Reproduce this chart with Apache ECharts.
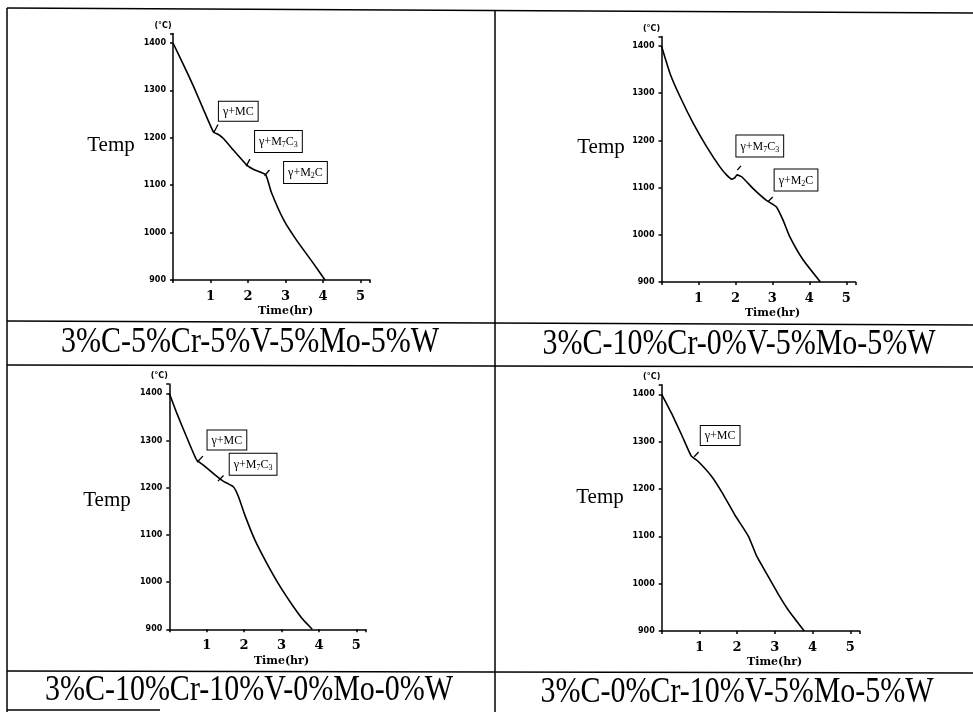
<!DOCTYPE html>
<html>
<head>
    <meta charset="utf-8">
    <title>Cooling curves</title>
    <script src="https://cdn.jsdelivr.net/npm/echarts@6/dist/echarts.min.js"></script>
    <style>
        html, body { margin: 0; padding: 0; background: #fff; }
    </style>
</head>
<body>
    <div id="main" style="width: 973px;height:712px;"></div>
    <script type="text/javascript">
        // alloy names under each panel
        var alloys = [
            '3%C-5%Cr-5%V-5%Mo-5%W',
            '3%C-10%Cr-0%V-5%Mo-5%W',
            '3%C-10%Cr-10%V-0%Mo-0%W',
            '3%C-0%Cr-10%V-5%Mo-5%W'
        ];

        // time (hr) and temperature (°C)
        var time1 = [0, 0.28, 0.55, 0.81, 1.08, 1.21, 1.35, 1.62, 1.96, 2.15, 2.47, 2.62, 2.96, 3.3, 3.76, 4.05];
        var temp1 = [1400, 1354, 1308, 1260, 1212, 1207, 1198, 1173, 1143, 1133, 1122, 1085, 1025, 983, 933, 900];

        var time2 = [0, 0.23, 0.5, 0.86, 1.22, 1.58, 1.76, 1.9, 1.97, 2.05, 2.17, 2.48, 2.84, 3.11, 3.29, 3.47, 3.83, 4.3];
        var temp2 = [1400, 1342, 1293, 1236, 1187, 1144, 1127, 1118, 1120, 1127, 1123, 1098, 1073, 1059, 1031, 996, 947, 900];

        var time3 = [0, 0.2, 0.46, 0.73, 0.91, 1.18, 1.44, 1.71, 1.85, 2.02, 2.29, 2.6, 2.96, 3.31, 3.58, 3.82];
        var temp3 = [1400, 1358, 1308, 1259, 1248, 1230, 1214, 1202, 1181, 1142, 1089, 1041, 991, 949, 920, 900];

        var time4 = [0, 0.26, 0.53, 0.78, 0.97, 1.33, 1.59, 1.94, 2.3, 2.52, 2.79, 3.09, 3.36, 3.78];
        var temp4 = [1400, 1360, 1314, 1270, 1258, 1226, 1194, 1145, 1100, 1058, 1020, 978, 944, 900];

        // phase labels: text, label centre (t, T), small pointer segment on the curve
        var phases1 = [
            { text: 'γ+MC', at: [1.74, 1256], mark: [[1.08, 1210], [1.2, 1228]] },
            { text: 'γ+M{s|7}C{s|3}', at: [2.81, 1192], mark: [[1.95, 1140], [2.05, 1155]] },
            { text: 'γ+M{s|2}C', at: [3.53, 1127], mark: [[2.44, 1120], [2.57, 1132]] }
        ];
        var phases2 = [
            { text: 'γ+M{s|7}C{s|3}', at: [2.66, 1188], mark: [[2.05, 1137], [2.15, 1146]] },
            { text: 'γ+M{s|2}C', at: [3.64, 1116], mark: [[2.88, 1070], [3.01, 1080]] }
        ];
        var phases3 = [
            { text: 'γ+MC', at: [1.54, 1301], mark: [[0.74, 1254], [0.9, 1267]] },
            { text: 'γ+M{s|7}C{s|3}', at: [2.24, 1250], mark: [[1.3, 1214], [1.45, 1226]] }
        ];
        var phases4 = [
            { text: 'γ+MC', at: [1.55, 1313], mark: [[0.86, 1268], [0.98, 1278]] }
        ];

        var xTicks = [1, 2, 3, 4, 5];
        var yTicks = [900, 1000, 1100, 1200, 1300, 1400];

        var myChart = echarts.init(document.getElementById('main'));

        var panels = [
            { time: time1, temp: temp1, phases: phases1, left: 173, top: 33.5, width: 197, height: 246.5 },
            { time: time2, temp: temp2, phases: phases2, left: 661.5, top: 36.6, width: 194, height: 245.4 },
            { time: time3, temp: temp3, phases: phases3, left: 169.3, top: 383.9, width: 196.4, height: 245.4 },
            { time: time4, temp: temp4, phases: phases4, left: 661.7, top: 384.8, width: 198, height: 246.2 }
        ];

        var grids = [], xAxes = [], yAxes = [], series = [];

        panels.forEach(function (p, i) {
            grids.push({ left: p.left, top: p.top, width: p.width, height: p.height });
            xAxes.push({
                type: 'value', gridIndex: i, min: 0, max: 5.25, interval: 1,
                name: 'Time(hr)', nameLocation: 'middle', nameGap: 26,
                nameTextStyle: { fontFamily: 'DejaVu Serif', fontWeight: 'bold', fontSize: 11, color: '#000', padding: [0, 0, 0, 28] },
                axisLine: { lineStyle: { color: '#000', width: 1.5 } },
                axisTick: { length: 3, lineStyle: { color: '#000', width: 1.5 } },
                axisLabel: {
                    margin: 10, fontFamily: 'DejaVu Serif', fontWeight: 'bold', fontSize: 13, color: '#000',
                    formatter: function (v) { return xTicks.indexOf(v) >= 0 ? String(v) : ''; }
                },
                splitLine: { show: false }
            });
            yAxes.push({
                type: 'value', gridIndex: i, min: 900, max: 1420, interval: 100,
                name: '(°C)', nameLocation: 'end', nameGap: 4,
                nameTextStyle: { fontFamily: 'DejaVu Sans', fontWeight: 'bold', fontSize: 8, color: '#000', padding: [0, 20, 0, 0] },
                axisLine: { lineStyle: { color: '#000', width: 1.5 } },
                axisTick: { length: 3, lineStyle: { color: '#000', width: 1.5 } },
                axisLabel: {
                    margin: 7, fontFamily: 'DejaVu Sans', fontWeight: 'bold', fontSize: 8, color: '#000',
                    formatter: function (v) { return yTicks.indexOf(v) >= 0 ? String(v) : ''; }
                },
                splitLine: { show: false }
            });
            series.push({
                type: 'line', xAxisIndex: i, yAxisIndex: i,
                data: p.time.map(function (t, k) { return [t, p.temp[k]]; }),
                smooth: 0.15, showSymbol: false, silent: true,
                lineStyle: { color: '#000', width: 1.6 },
                markPoint: {
                    silent: true, symbol: 'circle', symbolSize: 1,
                    itemStyle: { color: 'rgba(0,0,0,0)' },
                    label: {
                        show: true, position: 'inside', color: '#000',
                        fontFamily: 'Liberation Serif', fontSize: 12,
                        backgroundColor: '#fff', borderColor: '#000', borderWidth: 1,
                        padding: [4, 4, 3, 4],
                        rich: { s: { fontFamily: 'Liberation Serif', fontSize: 8, verticalAlign: 'bottom', padding: [6, 0, 0, 0] } }
                    },
                    data: p.phases.map(function (ph) {
                        return { coord: ph.at, label: { formatter: ph.text } };
                    })
                },
                markLine: {
                    silent: true, symbol: 'none', label: { show: false },
                    lineStyle: { color: '#000', width: 1.3, type: 'solid' },
                    data: p.phases.map(function (ph) {
                        return [{ coord: ph.mark[0] }, { coord: ph.mark[1] }];
                    })
                }
            });
        });

        // table rules, alloy captions and "Temp" labels
        var graphics = [
            { type: 'line', shape: { x1: 7, y1: 8, x2: 973, y2: 13 }, style: { stroke: '#000', lineWidth: 1.5 } },
            { type: 'line', shape: { x1: 7, y1: 321, x2: 973, y2: 325 }, style: { stroke: '#000', lineWidth: 1.5 } },
            { type: 'line', shape: { x1: 7, y1: 365, x2: 973, y2: 367 }, style: { stroke: '#000', lineWidth: 1.5 } },
            { type: 'line', shape: { x1: 7, y1: 671, x2: 973, y2: 673 }, style: { stroke: '#000', lineWidth: 1.5 } },
            { type: 'line', shape: { x1: 7, y1: 710, x2: 160, y2: 710 }, style: { stroke: '#000', lineWidth: 1.5 } },
            { type: 'line', shape: { x1: 7, y1: 8, x2: 7, y2: 712 }, style: { stroke: '#000', lineWidth: 1.5 } },
            { type: 'line', shape: { x1: 495, y1: 10, x2: 495, y2: 712 }, style: { stroke: '#000', lineWidth: 1.5 } }
        ];
        var captionPos = [[250, 343], [739, 345], [249, 691], [737, 693]];
        var tempPos = [[111, 145], [601, 147], [107, 500], [600, 497]];
        alloys.forEach(function (name, i) {
            graphics.push({
                type: 'text', x: captionPos[i][0], y: captionPos[i][1], scaleY: 1.2,
                style: { text: name, fontFamily: 'Liberation Serif', fontSize: 30, fill: '#000', align: 'center', verticalAlign: 'middle' }
            });
            graphics.push({
                type: 'text', x: tempPos[i][0], y: tempPos[i][1],
                style: { text: 'Temp', fontFamily: 'Liberation Serif', fontSize: 21, fill: '#000', align: 'center', verticalAlign: 'middle' }
            });
        });

        var option = {
            animation: false,
            backgroundColor: '#fff',
            grid: grids,
            xAxis: xAxes,
            yAxis: yAxes,
            series: series,
            graphic: graphics
        };

        myChart.setOption(option);
    </script>
</body>
</html>
